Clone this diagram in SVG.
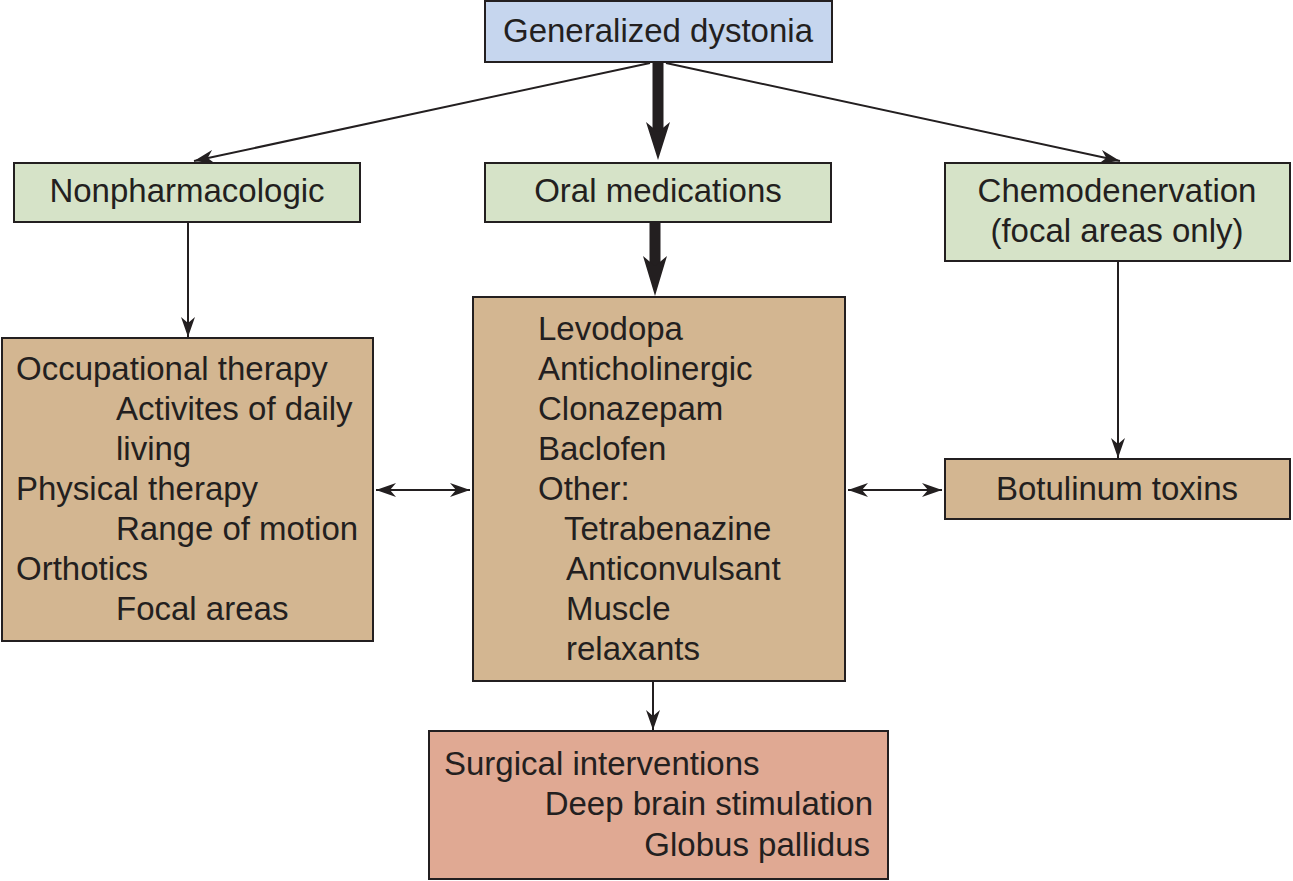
<svg xmlns="http://www.w3.org/2000/svg" width="1293" height="881" viewBox="0 0 1293 881">
<defs>
<style>
.box{stroke:#231f20;stroke-width:2}
.blue{fill:#c6d6ee}
.green{fill:#d6e3c8}
.tan{fill:#d3b691}
.rose{fill:#e0a993}
text{font-family:"Liberation Sans",Arial,sans-serif;font-size:33px;fill:#231f20}
.c{text-anchor:middle}
.r{text-anchor:end}
.thin{stroke:#231f20;stroke-width:2;fill:none}
.thick{stroke:#231f20;stroke-width:11;fill:none}
.head{fill:#231f20}
</style>
<marker id="ah" viewBox="0 0 20 14" refX="20" refY="7" markerWidth="20" markerHeight="14" markerUnits="userSpaceOnUse" orient="auto-start-reverse">
<path d="M0,0 L20,7 L0,14 L6,7 Z" fill="#231f20"/>
</marker>
</defs>
<rect width="1293" height="881" fill="#ffffff"/>
<g id="connectors">
<line class="thick" x1="658" y1="62" x2="658" y2="134"/>
<path class="head" d="M646,122 L658,132 L670,122 L658,160 Z"/>
<line class="thick" x1="655" y1="222" x2="655" y2="268"/>
<path class="head" d="M643,256 L655,266 L667,256 L655,296 Z"/>
<line class="thin" x1="650" y1="63" x2="194" y2="161" marker-end="url(#ah)"/>
<line class="thin" x1="666" y1="63" x2="1120" y2="161" marker-end="url(#ah)"/>
<line class="thin" x1="188" y1="222" x2="188" y2="337" marker-end="url(#ah)"/>
<line class="thin" x1="1118" y1="261" x2="1118" y2="458" marker-end="url(#ah)"/>
<line class="thin" x1="376" y1="490" x2="470" y2="490" marker-start="url(#ah)" marker-end="url(#ah)"/>
<line class="thin" x1="848" y1="490" x2="942" y2="490" marker-start="url(#ah)" marker-end="url(#ah)"/>
<line class="thin" x1="653" y1="682" x2="653" y2="730" marker-end="url(#ah)"/>
</g>
<g id="generalized">
<rect class="box blue" x="485" y="1" width="347" height="61"/>
<text class="c" x="658" y="42">Generalized dystonia</text>
</g>
<g id="nonpharm">
<rect class="box green" x="14" y="163" width="346" height="59"/>
<text class="c" x="187" y="202">Nonpharmacologic</text>
</g>
<g id="oral">
<rect class="box green" x="485" y="163" width="346" height="59"/>
<text class="c" x="658" y="202">Oral medications</text>
</g>
<g id="chemo">
<rect class="box green" x="945" y="163" width="345" height="98"/>
<text class="c" x="1117" y="202">Chemodenervation</text>
<text class="c" x="1117" y="242">(focal areas only)</text>
</g>
<g id="nonpharm-list">
<rect class="box tan" x="2" y="338" width="371" height="303"/>
<text x="16" y="380">Occupational therapy</text>
<text x="116" y="420">Activites of daily</text>
<text x="116" y="460">living</text>
<text x="16" y="500">Physical therapy</text>
<text x="116" y="540">Range of motion</text>
<text x="16" y="580">Orthotics</text>
<text x="116" y="620">Focal areas</text>
</g>
<g id="oral-list">
<rect class="box tan" x="473" y="297" width="372" height="384"/>
<text x="538" y="340">Levodopa</text>
<text x="538" y="380">Anticholinergic</text>
<text x="538" y="420">Clonazepam</text>
<text x="538" y="460">Baclofen</text>
<text x="538" y="500">Other:</text>
<text x="564" y="540">Tetrabenazine</text>
<text x="566" y="580">Anticonvulsant</text>
<text x="566" y="620">Muscle</text>
<text x="566" y="660">relaxants</text>
</g>
<g id="botulinum">
<rect class="box tan" x="945" y="459" width="345" height="60"/>
<text class="c" x="1117" y="500">Botulinum toxins</text>
</g>
<g id="surgical">
<rect class="box rose" x="429" y="731" width="459" height="148"/>
<text x="444" y="775">Surgical interventions</text>
<text class="r" x="873" y="815">Deep brain stimulation</text>
<text class="r" x="870" y="856">Globus pallidus</text>
</g>
</svg>
